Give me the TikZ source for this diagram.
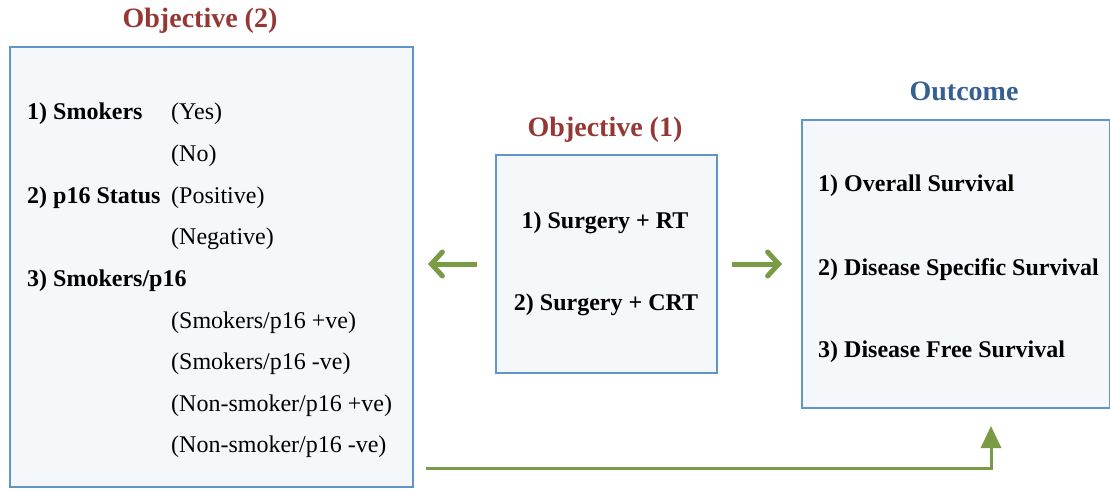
\documentclass[tikz,border=0pt]{standalone}
\usepackage{fontspec}
\setmainfont{Liberation Serif}
\usetikzlibrary{arrows.meta}
\definecolor{boxblue}{RGB}{98,148,204}
\definecolor{boxfill}{RGB}{245,248,251}
\definecolor{objred}{RGB}{149,55,53}
\definecolor{outblue}{RGB}{55,96,146}
\definecolor{arrgreen}{RGB}{122,155,70}
\tikzset{
  box/.style={draw=boxblue, fill=boxfill, line width=2pt, inner sep=0pt},
  ttl/.style={anchor=base, inner sep=0pt, font=\fontsize{28}{32}\selectfont\bfseries},
  bitem/.style={anchor=base west, inner sep=0pt, font=\fontsize{24}{28}\selectfont\bfseries},
  ritem/.style={anchor=base west, inner sep=0pt, font=\fontsize{24}{28}\selectfont},
  citem/.style={anchor=base, inner sep=0pt, font=\fontsize{24}{28}\selectfont\bfseries},
  flow/.style={draw=arrgreen, line width=5pt, -{Straight Barb[length=11pt,width=24pt,line cap=round]}},
  flowb/.style={draw=arrgreen, line width=3pt, -{Triangle[length=22pt,width=20pt]}}
}
\begin{document}
\begin{tikzpicture}[x=1pt,y=-1pt]
  \useasboundingbox (0,0) rectangle (1110,489);
  % Boxes
  \node[box, minimum width=403pt, minimum height=440pt] (obj2) at (211.5,267) {};
  \node[box, minimum width=221pt, minimum height=218pt] (obj1) at (606.5,264) {};
  \node[box, minimum width=308pt, minimum height=288pt] (out) at (956,264) {};
  % Titles
  \node[ttl, text=objred] (t2) at (200,28) {Objective (2)};
  \node[ttl, text=objred] (t1) at (605,137) {Objective (1)};
  \node[ttl, text=outblue] (t3) at (964,101) {Outcome};
  % Objective (2)
  \node[bitem] (smk) at (27,120) {1) Smokers};
  \node[ritem] (yes) at (171,120) {(Yes)};
  \node[ritem] (no) at (171,161.6) {(No)};
  \node[bitem] (p16) at (27,203.2) {2) p16 Status};
  \node[ritem] (pos) at (171,203.2) {(Positive)};
  \node[ritem] (neg) at (171,244.8) {(Negative)};
  \node[bitem] (smp) at (27,286.4) {3) Smokers/p16};
  \node[ritem] (sp) at (171,328) {(Smokers/p16 +ve)};
  \node[ritem] (sn) at (171,369.6) {(Smokers/p16 -ve)};
  \node[ritem] (np) at (171,411.2) {(Non-smoker/p16 +ve)};
  \node[ritem] (nn) at (171,452.8) {(Non-smoker/p16 -ve)};
  % Objective (1)
  \node[citem] (rt) at (605,228) {1) Surgery + RT};
  \node[citem] (crt) at (606,310) {2) Surgery + CRT};
  % Outcome
  \node[bitem] (os) at (818,192) {1) Overall Survival};
  \node[bitem] (dss) at (818,275) {2) Disease Specific Survival};
  \node[bitem] (dfs) at (818,357) {3) Disease Free Survival};
  % Arrows
  \draw[flow, shorten <=18pt, shorten >=14pt] (obj1.west) -- (obj2.east |- obj1.west);
  \draw[flow, shorten <=14pt, shorten >=19pt] (obj1.east) -- (out.west |- obj1.east);
  \coordinate (bend) at (991,468);
  \draw[flowb, shorten <=12pt, shorten >=17pt] (obj2.east |- bend) -- (bend) -- (out.south -| bend);
\end{tikzpicture}
\end{document}
